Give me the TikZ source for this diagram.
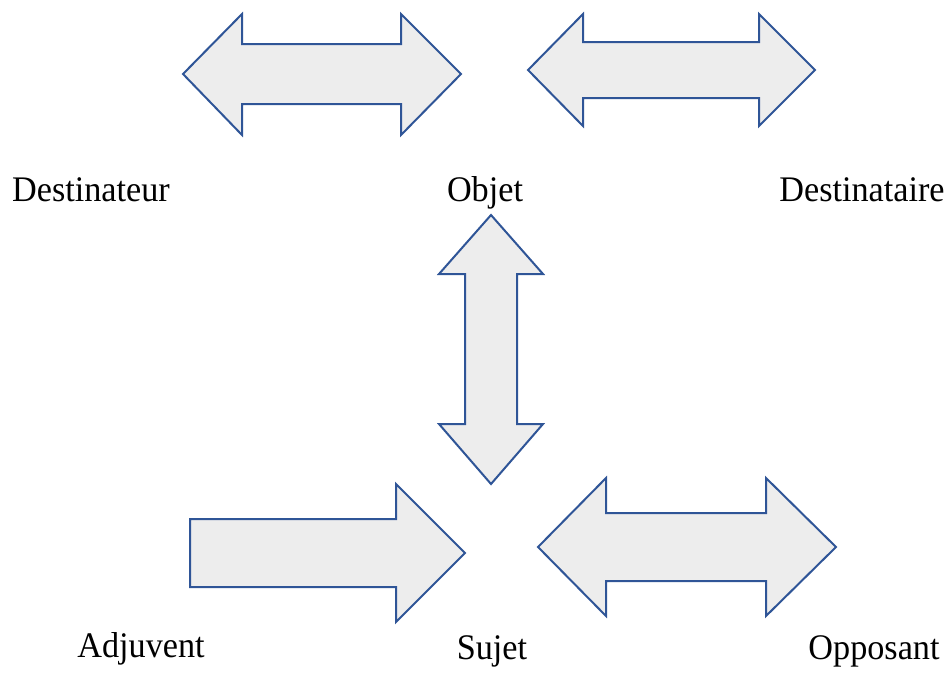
\documentclass[tikz,border=0pt]{standalone}
\usepackage{fontspec}
\setmainfont[FakeStretch=0.95]{Liberation Serif}
\usepackage{tikz}
\usepackage{xcolor}
\definecolor{flechebleu}{RGB}{47, 85, 151}
\definecolor{flechegris}{RGB}{237, 237, 237}

\begin{document}
\begin{tikzpicture}[x=1pt,y=-1pt,
  fleche/.style={draw=flechebleu,fill=flechegris,line width=2pt,line join=miter},
  mot/.style={anchor=base,inner sep=0pt,font=\fontsize{36}{40}\selectfont}]
\useasboundingbox (0,0) rectangle (949,673);
% fleches du haut
\draw[fleche](183,74)--(242,14)--(242,44)--(401,44)--(401,14)--(461,74)--(401,135)--(401,104)--(242,104)--(242,135)--cycle;
\draw[fleche](528,70)--(583,14)--(583,42)--(759,42)--(759,14)--(815,70)--(759,126)--(759,98)--(583,98)--(583,126)--cycle;
% fleche verticale
\draw[fleche](491,215)--(543,274)--(517,274)--(517,424)--(543,424)--(491,484)--(439,424)--(465,424)--(465,274)--(439,274)--cycle;
% fleches du bas
\draw[fleche](190,519)--(396,519)--(396,484)--(465,553)--(396,622)--(396,587)--(190,587)--cycle;
\draw[fleche](538,547)--(606,478)--(606,513)--(766,513)--(766,478)--(836,547)--(766,616)--(766,581)--(606,581)--(606,616)--cycle;
% actants
\node[mot] (destinateur) at (91,201) {Destinateur};
\node[mot] (objet) at (485,201) {Objet};
\node[mot] (destinataire) at (862,201) {Destinataire};
\node[mot] (adjuvent) at (141,657) {Adjuvent};
\node[mot] (sujet) at (492,659) {Sujet};
\node[mot] (opposant) at (874,659) {Opposant};
\end{tikzpicture}
\end{document}
